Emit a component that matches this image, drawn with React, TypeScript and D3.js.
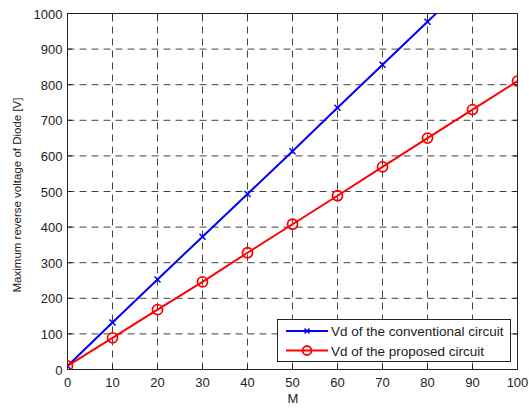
import React, { useEffect, useRef } from "react";
import * as d3 from "d3";

const mValues = [0, 10, 20, 30, 40, 50, 60, 70, 80, 90, 100];
const conventional = [10, 132, 253, 373, 493, 613, 735, 856, 977, 1098, 1219];
const proposed = [10, 89, 168, 246, 328, 408, 488, 569, 650, 730, 810];
const xTicks = [0, 10, 20, 30, 40, 50, 60, 70, 80, 90, 100];
const yTicks = [0, 100, 200, 300, 400, 500, 600, 700, 800, 900, 1000];
const seriesNames = ["Vd of the conventional circuit", "Vd of the proposed circuit"];

const W = 529;
const H = 410;
const margin = { top: 13.5, right: 11.5, bottom: 40.5, left: 67.5 };

const App: React.FC = () => {
  const svgRef = useRef<SVGSVGElement | null>(null);

  useEffect(() => {
    if (!svgRef.current) return;
    const svg = d3.select(svgRef.current);
    svg.selectAll("*").remove();

    const x = d3.scaleLinear().domain([0, 100]).range([margin.left, W - margin.right]);
    const y = d3.scaleLinear().domain([0, 1000]).range([H - margin.bottom, margin.top]);
    const font = "Arial, 'Liberation Sans', sans-serif";
    const x0 = x(0), x1 = x(100), y0 = y(0), y1 = y(1000);

    svg.append("rect").attr("width", W).attr("height", H).attr("fill", "#fff");

    svg.append("defs").append("clipPath").attr("id", "plot-clip")
      .append("rect").attr("x", x0).attr("y", y1).attr("width", x1 - x0).attr("height", y0 - y1);

    // grid
    const grid = svg.append("g").attr("stroke", "#444").attr("stroke-width", 1)
      .attr("stroke-dasharray", "7,5").attr("fill", "none");
    xTicks.slice(1, -1).forEach((t) => {
      grid.append("line").attr("x1", x(t)).attr("x2", x(t)).attr("y1", y0).attr("y2", y1);
    });
    yTicks.slice(1, -1).forEach((t) => {
      grid.append("line").attr("x1", x0).attr("x2", x1).attr("y1", y(t)).attr("y2", y(t));
    });

    // box + inward ticks
    svg.append("rect").attr("x", x0).attr("y", y1).attr("width", x1 - x0).attr("height", y0 - y1)
      .attr("fill", "none").attr("stroke", "#222").attr("stroke-width", 1);
    const tk = svg.append("g").attr("stroke", "#222").attr("stroke-width", 1);
    xTicks.forEach((t) => {
      tk.append("line").attr("x1", x(t)).attr("x2", x(t)).attr("y1", y0).attr("y2", y0 - 4.5);
      tk.append("line").attr("x1", x(t)).attr("x2", x(t)).attr("y1", y1).attr("y2", y1 + 4.5);
    });
    yTicks.forEach((t) => {
      tk.append("line").attr("x1", x0).attr("x2", x0 + 4.5).attr("y1", y(t)).attr("y2", y(t));
      tk.append("line").attr("x1", x1).attr("x2", x1 - 4.5).attr("y1", y(t)).attr("y2", y(t));
    });

    // tick labels
    svg.append("g").selectAll("text").data(xTicks).enter().append("text")
      .attr("x", (d) => x(d)).attr("y", y0 + 17.5).attr("text-anchor", "middle")
      .style("font-family", font).style("font-size", "13px").attr("fill", "#222")
      .text((d) => d);
    svg.append("g").selectAll("text").data(yTicks).enter().append("text")
      .attr("x", x0 - 5).attr("y", (d) => y(d) + 5).attr("text-anchor", "end")
      .style("font-family", font).style("font-size", "13px").attr("fill", "#222")
      .text((d) => d);

    // axis labels
    svg.append("text").attr("x", 293).attr("y", 403).attr("text-anchor", "middle")
      .style("font-family", font).style("font-size", "13px").attr("fill", "#222").text("M");
    svg.append("text")
      .attr("transform", `translate(21, 195) rotate(-90)`)
      .attr("text-anchor", "middle")
      .style("font-family", font).style("font-size", "11.5px").attr("fill", "#222")
      .text("Maximum reverse voltage of Diode [V]");

    const line = d3.line<[number, number]>().x((d) => x(d[0])).y((d) => y(d[1]));
    const blueData = mValues.map((m, i) => [m, conventional[i]] as [number, number]);
    const redData = mValues.map((m, i) => [m, proposed[i]] as [number, number]);

    const plot = svg.append("g").attr("clip-path", "url(#plot-clip)");

    plot.append("path").attr("d", line(blueData)).attr("fill", "none")
      .attr("stroke", "#0000ff").attr("stroke-width", 2);
    const cross = (g: any, cx: number, cy: number, s: number) => {
      g.append("path").attr("d", `M${cx - s},${cy - s}L${cx + s},${cy + s}M${cx - s},${cy + s}L${cx + s},${cy - s}`)
        .attr("stroke", "#0000ff").attr("stroke-width", 1.5);
    };
    blueData.forEach((d) => cross(plot, x(d[0]), y(d[1]), 3));

    plot.append("path").attr("d", line(redData)).attr("fill", "none")
      .attr("stroke", "#ff0000").attr("stroke-width", 2);
    plot.selectAll("circle.red").data(redData).enter().append("circle").attr("class", "red")
      .attr("cx", (d) => x(d[0])).attr("cy", (d) => y(d[1])).attr("r", 5)
      .attr("fill", "none").attr("stroke", "#ff0000").attr("stroke-width", 1.8);

    // legend
    const lg = svg.append("g");
    lg.append("rect").attr("x", 277.5).attr("y", 319.5).attr("width", 233).attr("height", 42)
      .attr("fill", "#fff").attr("stroke", "#222").attr("stroke-width", 1);
    const rows = [
      { name: seriesNames[0], color: "#0000ff", yy: 331 },
      { name: seriesNames[1], color: "#ff0000", yy: 350.5 },
    ];
    rows.forEach((r, i) => {
      lg.append("line").attr("x1", 286).attr("x2", 328).attr("y1", r.yy).attr("y2", r.yy)
        .attr("stroke", r.color).attr("stroke-width", 2);
      if (i === 0) cross(lg, 307, r.yy, 2.5);
      else lg.append("circle").attr("cx", 307).attr("cy", r.yy).attr("r", 4.5)
        .attr("fill", "none").attr("stroke", r.color).attr("stroke-width", 1.8);
      lg.append("text").attr("x", 331).attr("y", r.yy + 5)
        .style("font-family", font).style("font-size", "13.5px").attr("fill", "#222").text(r.name);
    });
  }, []);

  return (
    <svg ref={svgRef} width={W} height={H}
      style={{ position: "absolute", left: 0, top: 0, display: "block" }} />
  );
};

export default App;
